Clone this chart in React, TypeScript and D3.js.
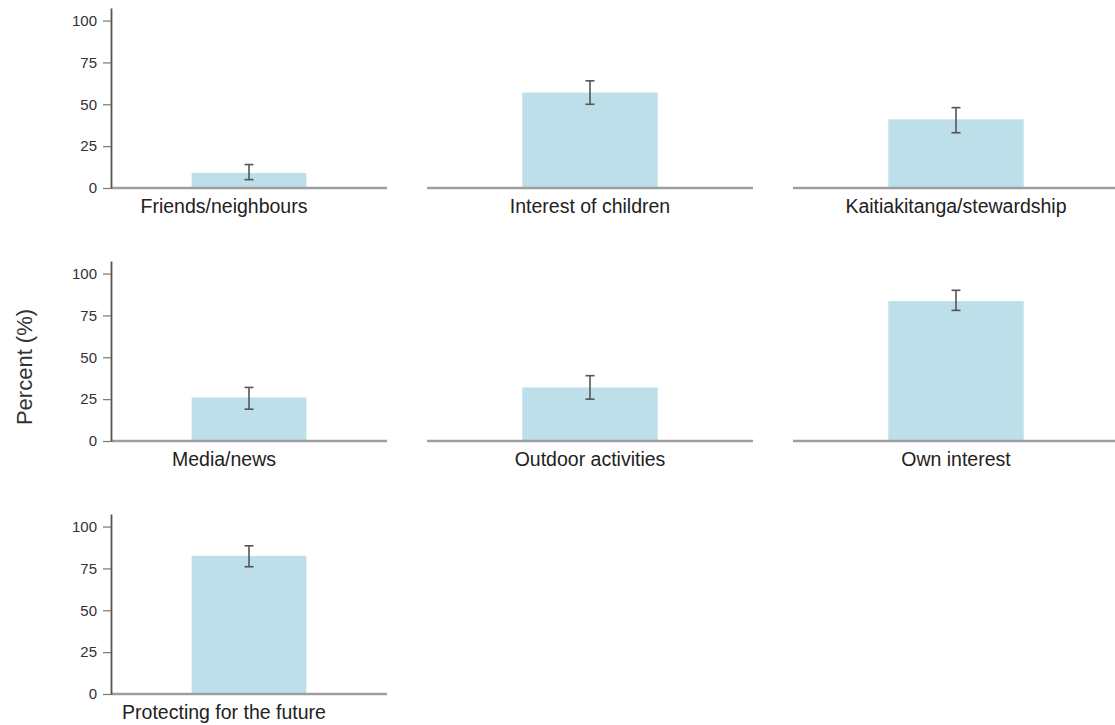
import React, { useEffect, useRef } from "react";
import * as d3 from "d3";

// Motivation categories, one small-multiple panel each
const categories = [
  "Friends/neighbours",
  "Interest of children",
  "Kaitiakitanga/stewardship",
  "Media/news",
  "Outdoor activities",
  "Own interest",
  "Protecting for the future",
];
// Estimated percentage for each category
const percents = [9, 57, 41, 26, 32, 83.5, 82.5];
// Lower and upper confidence limits
const lowerCI = [5, 50, 33, 19, 25, 78, 76];
const upperCI = [14, 64, 48, 32, 39, 90, 88.5];
const yTicks = [0, 25, 50, 75, 100];

const WIDTH = 1115;
const HEIGHT = 725;
const NCOL = 3;
const COL_X0 = 61;
const COL_STEP = 366;
const PANEL_W = 326;
const AXIS_SPACE = 50;
const ROW_TOP = 8;
const ROW_STEP = 253;
const PLOT_H = 180;
const Y_MAX = 107.5;

export default function App() {
  const ref = useRef<SVGSVGElement>(null);

  useEffect(() => {
    const svg = d3.select(ref.current);
    svg.selectAll("*").remove();

    const y = d3.scaleLinear().domain([0, Y_MAX]);

    categories.forEach((cat, i) => {
      const col = i % NCOL;
      const row = Math.floor(i / NCOL);
      const fx0 = COL_X0 + col * COL_STEP;
      const fx1 = fx0 + PANEL_W;
      const px0 = col === 0 ? fx0 + AXIS_SPACE : fx0;
      const top = ROW_TOP + row * ROW_STEP;
      const bottom = top + PLOT_H;

      const x = d3.scaleBand<string>().domain([cat]).range([px0, fx1]).padding(0.413);
      const yy = y.copy().range([bottom, top]);

      const g = svg.append("g");

      // bar
      g.append("rect")
        .attr("x", x(cat)!)
        .attr("width", x.bandwidth())
        .attr("y", yy(percents[i]))
        .attr("height", yy(0) - yy(percents[i]))
        .attr("fill", "#bcdfe9");

      // baseline
      g.append("line")
        .attr("x1", px0)
        .attr("x2", fx1)
        .attr("y1", yy(0))
        .attr("y2", yy(0))
        .attr("stroke", "#9e9e9e")
        .attr("stroke-width", 2.5);

      // error bar
      const cx = x(cat)! + x.bandwidth() / 2;
      const eg = g.append("g").attr("stroke", "#555").attr("stroke-width", 1.6);
      eg.append("line").attr("x1", cx).attr("x2", cx).attr("y1", yy(lowerCI[i])).attr("y2", yy(upperCI[i]));
      [lowerCI[i], upperCI[i]].forEach((v) => {
        eg.append("line")
          .attr("x1", cx - 4.5)
          .attr("x2", cx + 4.5)
          .attr("y1", yy(v))
          .attr("y2", yy(v));
      });

      // y axis on the first column only
      if (col === 0) {
        const ax = g
          .append("g")
          .attr("transform", `translate(${px0},0)`)
          .call(d3.axisLeft(yy).tickValues(yTicks).tickSize(8).tickSizeOuter(0).tickPadding(6));
        ax.select(".domain").attr("stroke", "#555").attr("stroke-width", 1.8);
        ax.selectAll(".tick line").attr("stroke", "#777").attr("stroke-width", 1.2);
        ax.selectAll(".tick text")
          .attr("fill", "#333")
          .style("font-family", "Arial, 'Liberation Sans', sans-serif")
          .style("font-size", "15px");
      }

      // category label, centred on the facet
      g.append("text")
        .attr("x", (fx0 + fx1) / 2)
        .attr("y", bottom + 25)
        .attr("text-anchor", "middle")
        .attr("fill", "#222")
        .style("font-family", "Arial, 'Liberation Sans', sans-serif")
        .style("font-size", "19.5px")
        .text(cat);
    });

    svg
      .append("text")
      .attr("transform", `translate(32,367) rotate(-90)`)
      .attr("text-anchor", "middle")
      .attr("fill", "#333")
      .style("font-family", "Arial, 'Liberation Sans', sans-serif")
      .style("font-size", "22px")
      .text("Percent (%)");
  }, []);

  return (
    <svg
      ref={ref}
      width={WIDTH}
      height={HEIGHT}
      style={{ position: "absolute", left: 0, top: 0, background: "#fff" }}
    />
  );
}
